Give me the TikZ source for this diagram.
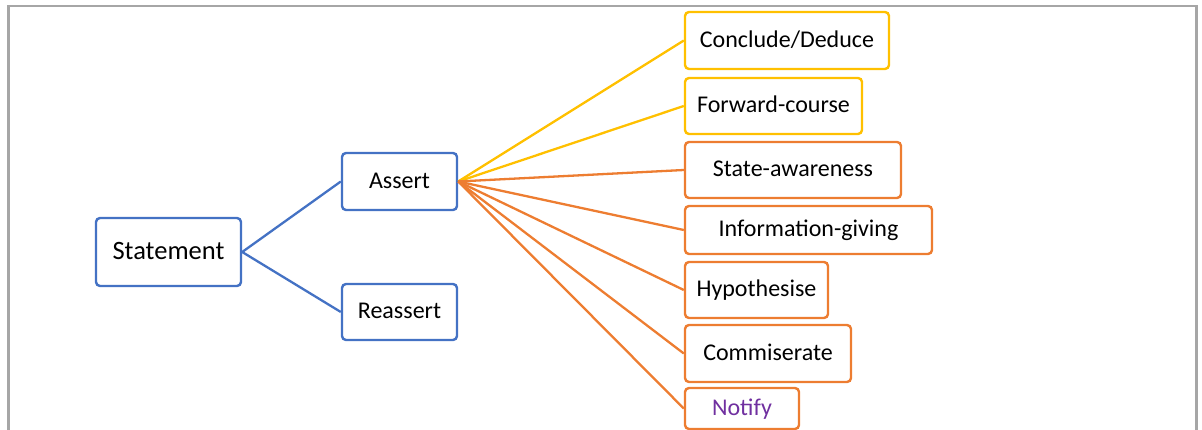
\documentclass[tikz,border=0pt]{standalone}
\usepackage{fontspec}
\setmainfont{Carlito}
\definecolor{cblue}{HTML}{4472C4}
\definecolor{corange}{HTML}{ED7D31}
\definecolor{cyellow}{HTML}{FFC000}
\definecolor{cpurple}{HTML}{7030A0}
\definecolor{cframe}{HTML}{A6A6A6}
\tikzset{
  box/.style={draw, fill=white, rounded corners=4pt, line width=2.4pt, inner sep=0pt,
    font=\fontsize{24}{28}\selectfont, text height=15.5pt, text depth=1.5pt},
  bluebox/.style={box, draw=cblue},
  orbox/.style={box, draw=corange},
  yelbox/.style={box, draw=cyellow},
  link/.style={line width=2.3pt},
}
\begin{document}
\begin{tikzpicture}[x=1pt,y=-1pt]
\useasboundingbox (0,0) rectangle (1202,430);
\draw[cframe, line width=2.2pt] (8.5,431) -- (8.5,6) -- (1196.5,6) -- (1196.5,431);

\node[bluebox, minimum width=145pt, minimum height=68pt,
  font=\fontsize{26.5}{30}\selectfont, text height=17pt, text depth=1pt] (st) at (168.5,252) {Statement};
\node[bluebox, minimum width=115pt, minimum height=57pt] (as) at (399.5,181.5) {Assert};
\node[bluebox, minimum width=115pt, minimum height=56pt] (re) at (399.5,312) {Reassert};

\node[yelbox, minimum width=204pt, minimum height=57pt] (cd) at (787,40.5) {Conclude/Deduce};
\node[yelbox, minimum width=177pt, minimum height=56pt] (fc) at (773.5,106) {Forward-course};
\node[orbox, minimum width=216pt, minimum height=56pt] (sa) at (793,170) {State-awareness};
\node[orbox, minimum width=247pt, minimum height=48pt] (ig) at (808.5,230) {Information-giving};
\node[orbox, minimum width=143pt, minimum height=56pt] (hy) at (756.5,290) {Hypothesise};
\node[orbox, minimum width=166pt, minimum height=57pt] (co) at (768,353.5) {Commiserate};
\node[orbox, minimum width=114pt, minimum height=41pt, text=cpurple] (no) at (742,408.5) {Notify};

\draw[link, cblue] (st.east) -- (as.west);
\draw[link, cblue] (st.east) -- (re.west);
\draw[link, cyellow] (as.east) -- (cd.west);
\draw[link, cyellow] (as.east) -- (fc.west);
\draw[link, corange] (as.east) -- (sa.west);
\draw[link, corange] (as.east) -- (ig.west);
\draw[link, corange] (as.east) -- (hy.west);
\draw[link, corange] (as.east) -- (co.west);
\draw[link, corange] (as.east) -- (no.west);
\end{tikzpicture}
\end{document}
